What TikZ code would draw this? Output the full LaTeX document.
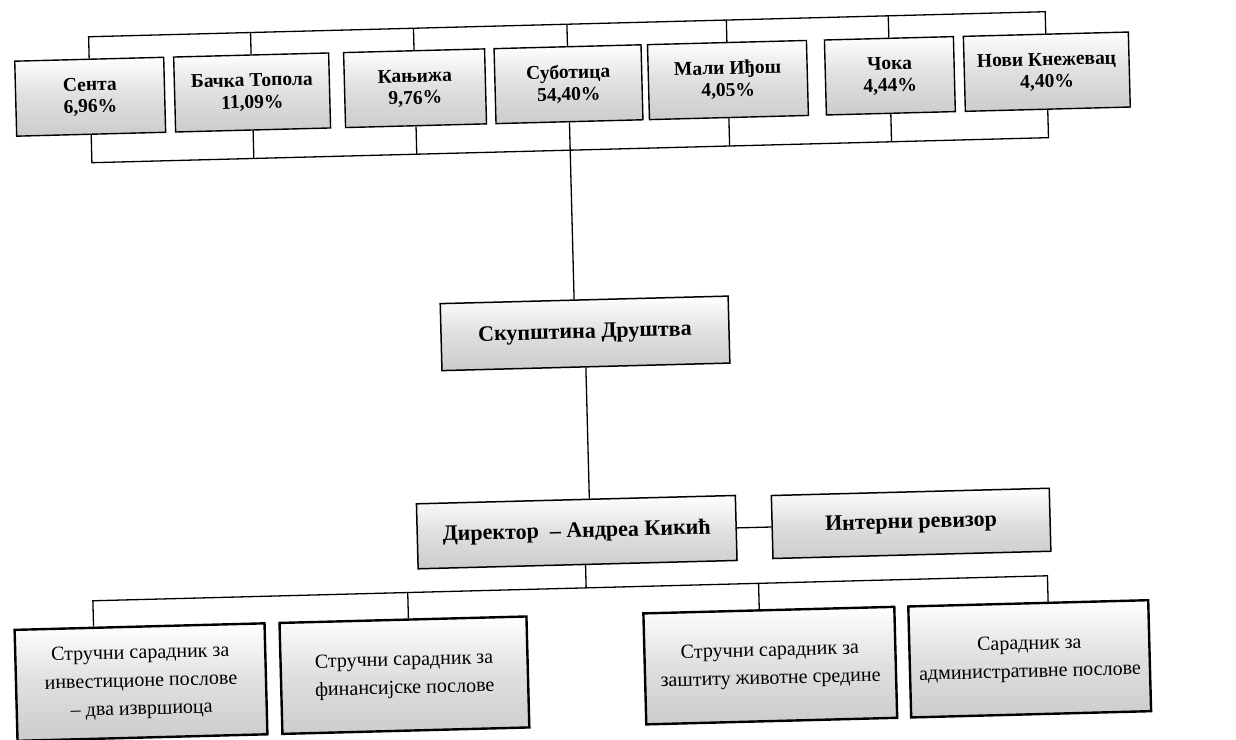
\documentclass[tikz,border=0pt]{standalone}
\usepackage{fontspec}
\setmainfont{Liberation Serif}
\begin{document}
\begin{tikzpicture}[x=1pt,y=-1pt,
  conn/.style={draw=black, line width=1.3pt},
  shadebox/.style={top color=white, bottom color=gray!40, middle color=gray!25, align=center, inner sep=0pt},
  topbox/.style={shadebox, draw=black, line width=1.4pt, font=\bfseries\fontsize{19.5}{22}\selectfont, minimum height=75pt},
  midbox/.style={shadebox, draw=black, line width=1.5pt, font=\bfseries\fontsize{22}{26}\selectfont},
  lowbox/.style={shadebox, draw=black, line width=2.4pt, font=\fontsize{20}{28}\selectfont, minimum height=111pt}
]
\useasboundingbox (0,0) rectangle (1236,739);
\begin{scope}[rotate around={1.5:(618,370)}, transform shape]
% top row
\node[topbox, minimum width=149pt] (senta)    at (97.5,83)  {Сента\\6,96\%};
\node[topbox, minimum width=155pt] (backa)    at (259.5,83) {Бачка Топола\\11,09\%};
\node[topbox, minimum width=141pt] (kanjiza)  at (422.5,83) {Кањижа\\9,76\%};
\node[topbox, minimum width=147pt] (subotica) at (576,83)   {Суботица\\54,40\%};
\node[topbox, minimum width=159pt] (mali)     at (735.5,83) {Мали Иђош\\4,05\%};
\node[topbox, minimum width=129pt] (coka)     at (897.5,83) {Чока\\4,44\%};
\node[topbox, minimum width=165pt] (nk)       at (1054.5,83) {Нови Кнежевац\\4,40\%};
\coordinate (tbus) at (0,23);
\coordinate (bbus) at (0,149);
\draw[conn] (senta.north) -- (senta.north |- tbus) -- (nk.north |- tbus) -- (nk.north);
\draw[conn] (senta.south) -- (senta.south |- bbus) -- (nk.south |- bbus) -- (nk.south);
\foreach \n in {backa,kanjiza,subotica,mali,coka}{
  \draw[conn] (\n.north) -- (\n.north |- tbus);
  \draw[conn] (\n.south) -- (\n.south |- bbus);
}
% middle
\node[midbox, minimum width=288pt, minimum height=67pt] (skup) at (586,332.5) {Скупштина Друштва};
\node[midbox, minimum width=319pt, minimum height=65pt] (dir) at (572.5,531) {Директор~ – Андреа Кикић};
\node[midbox, minimum width=278pt, minimum height=63pt] (rev) at (907,531) {Интерни ревизор};
\draw[conn] (subotica.south |- bbus) -- (subotica.south |- skup.north);
\draw[conn] (skup.south) -- (skup.south |- dir.north);
\draw[conn] (dir.east) -- (rev.west);
% bottom row
\node[lowbox, minimum width=250pt] (b1) at (133,669.5)   {Стручни сарадник за\\инвестиционе послове\\– два извршиоца};
\node[lowbox, minimum width=247pt] (b2) at (396.5,669.5) {Стручни сарадник за\\финансијске послове};
\node[lowbox, minimum width=251pt] (b3) at (762.5,669.5) {Стручни сарадник за\\заштиту животне средине};
\node[lowbox, minimum width=240pt] (b4) at (1022,669.5)  {Сарадник за\\административне послове};
\coordinate (lbus) at (0,587);
\draw[conn] ([xshift=8pt]dir.south) -- ([xshift=8pt]dir.south |- lbus);
\draw[conn] ([xshift=-46pt]b1.north) -- ([xshift=-46pt]b1.north |- lbus) -- ([xshift=20pt]b4.north |- lbus) -- ([xshift=20pt]b4.north);
\draw[conn] ([xshift=5.5pt]b2.north) -- ([xshift=5.5pt]b2.north |- lbus);
\draw[conn] ([xshift=-9.5pt]b3.north) -- ([xshift=-9.5pt]b3.north |- lbus);
\end{scope}
\end{tikzpicture}
\end{document}
